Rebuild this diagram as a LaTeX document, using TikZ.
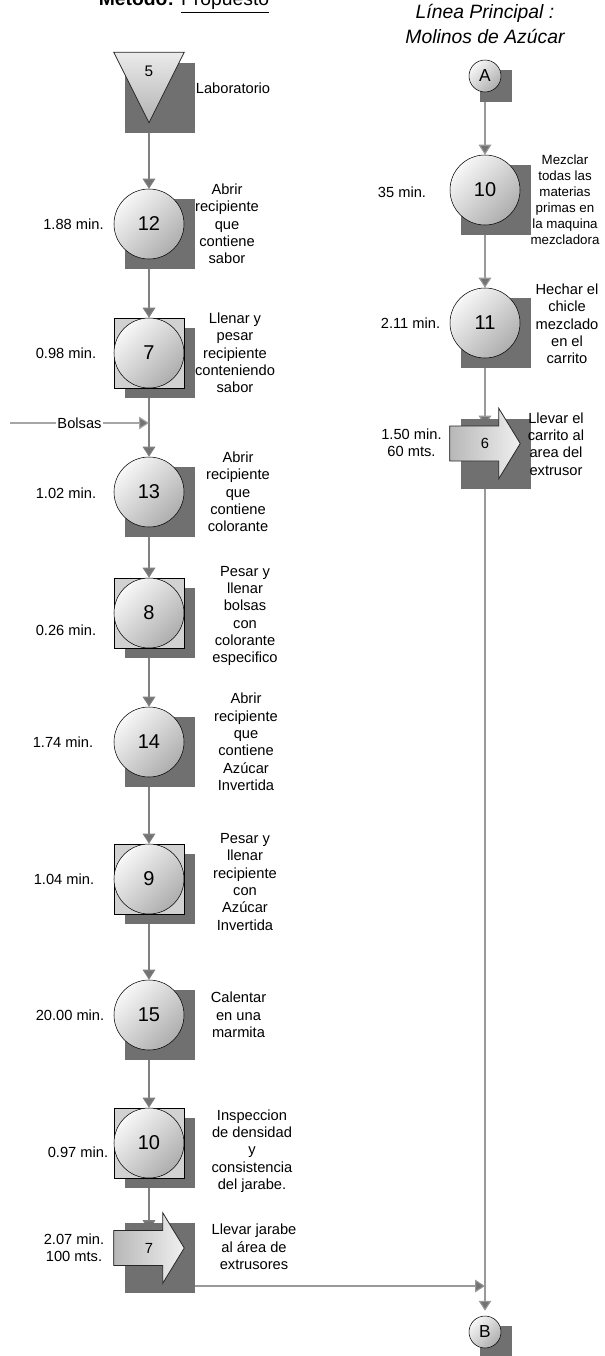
\documentclass[tikz,border=0pt]{standalone}
\usepackage{fontspec}
\setmainfont{Liberation Sans}
\usetikzlibrary{arrows.meta,calc,backgrounds}
\tikzset{
  opcirc/.style={circle, draw, minimum size=52.5pt, inner sep=0pt, top color=black!3, bottom color=black!32, shading angle=45, font=\fontsize{15}{17}\selectfont},
  combo/.style={rectangle, draw, minimum size=52.5pt, inner sep=0pt, fill=black!18},
  frame/.style={rectangle, minimum size=52.5pt, inner sep=0pt, font=\fontsize{11}{13}\selectfont},
  conector/.style={circle, draw, minimum size=24pt, inner sep=0pt, top color=black!3, bottom color=black!32, shading angle=45, font=\fontsize{13}{15}\selectfont},
  desc/.style={align=center, font=\fontsize{11}{13}\selectfont, inner sep=0pt},
  tiempo/.style={align=center, font=\fontsize{11}{13}\selectfont, inner sep=0pt},
  flujo/.style={draw=black!50, line width=0.8pt, -{Triangle[length=7.5pt,width=9.5pt,fill=black!55]}},
  sombra/.style={fill=black!56},
  figura/.style={draw=black!85, line width=0.6pt}
}
\begin{document}
\begin{tikzpicture}[x=0.75pt, y=-0.75pt]
  \useasboundingbox (0,0) rectangle (605,1356);

  % titulos
  \node[anchor=base, font=\fontsize{14.5}{17}\selectfont] (metodo) at (184,6) {\textbf{Método:} \underline{Propuesto}};
  \node[anchor=base, align=center, font=\fontsize{14.5}{18.75}\selectfont\itshape] (linea) at (485,43.3) {Línea Principal :\\Molinos de Azúcar};

  % columna izquierda
  \node[frame] (s5) at (149,87.5) {};
  \node[font=\fontsize{11.5}{13}\selectfont, inner sep=0pt] (s5n) at (149,71) {5};
  \node[desc] (d5) at (233,88) {Laboratorio};

  \node[opcirc] (c12) at (149,224) {12};
  \node[tiempo] (h12) at (73.5,224) {1.88 min.};
  \node[desc] (d12) at (227,224) {Abrir\\recipiente\\que\\contiene\\sabor};

  \node[combo] (q7) at (149,353) {};
  \node[opcirc] (c7) at (149,353) {7};
  \node[tiempo] (h7) at (66,353) {0.98 min.};
  \node[desc] (d7) at (235,353) {Llenar y\\pesar\\recipiente\\conteniendo\\sabor};

  \coordinate (bolsas0) at (10,423);
  \coordinate (bolsas1) at (149,423);

  \node[opcirc] (c13) at (149,492) {13};
  \node[tiempo] (h13) at (66,493) {1.02 min.};
  \node[desc] (d13) at (238,492) {Abrir\\recipiente\\que\\contiene\\colorante};

  \node[combo] (q8) at (149,613) {};
  \node[opcirc] (c8) at (149,613) {8};
  \node[tiempo] (h8) at (66,630) {0.26 min.};
  \node[desc] (d8) at (245,616) {Pesar y\\llenar\\bolsas\\con\\colorante\\especifico};

  \node[opcirc] (c14) at (149,742) {14};
  \node[tiempo] (h14) at (63,742) {1.74 min.};
  \node[desc] (d14) at (246,742) {Abrir\\recipiente\\que\\contiene\\Azúcar\\Invertida};

  \node[combo] (q9) at (149,879) {};
  \node[opcirc] (c9) at (149,879) {9};
  \node[tiempo] (h9) at (64,879) {1.04 min.};
  \node[desc] (d9) at (245,882) {Pesar y\\llenar\\recipiente\\con\\Azúcar\\Invertida};

  \node[opcirc] (c15) at (149,1015) {15};
  \node[tiempo] (h15) at (70,1015) {20.00 min.};
  \node[desc] (d15) at (238.5,1015) {Calentar\\en una\\marmita};

  \node[combo] (q10) at (149,1143) {};
  \node[opcirc] (c10) at (149,1143) {10};
  \node[tiempo] (h10) at (78,1152) {0.97 min.};
  \node[desc] (d10) at (252,1151) {Inspeccion\\de densidad\\y\\consistencia\\del jarabe.};

  \node[frame] (t7) at (149,1248) {7};
  \node[tiempo] (h7t) at (74,1248) {2.07 min.\\100 mts.};
  \node[desc] (d7t) at (254,1247) {Llevar jarabe\\al área de\\extrusores};
  \coordinate (t7out) at (149,1286);

  % columna derecha
  \node[conector] (a) at (485,76) {A};
  \node[opcirc] (c10r) at (485,190) {10};
  \node[tiempo] (h10r) at (402,192) {35 min.};
  \node[desc, font=\fontsize{10}{12}\selectfont] (d10r) at (565,200) {Mezclar\\todas las\\materias\\primas en\\la maquina\\mezcladora};
  \node[opcirc] (c11r) at (485,323) {11};
  \node[tiempo] (h11r) at (410.5,323) {2.11 min.};
  \node[desc] (d11r) at (567,324) {Hechar el\\chicle\\mezclado\\en el\\carrito};
  \node[frame] (t6) at (485,443.5) {6};
  \node[tiempo] (h6) at (411.5,443) {1.50 min.\\60 mts.};
  \node[desc] (d6) at (556,444) {Llevar el\\carrito al\\area del\\extrusor};
  \node[conector] (b) at (485,1332) {B};
  \coordinate (union) at (b |- t7out);

  \begin{scope}[on background layer]
    % flechas
    \draw[flujo] (s5.south) -- (c12.north);
    \draw[flujo] (c12.south) -- (q7.north);
    \draw[flujo] (q7.south) -- (c13.north);
    \draw[flujo, draw=black!35] (bolsas0) -- node[fill=white, inner sep=1pt, font=\fontsize{11}{13}\selectfont] (bolsas) {Bolsas} (bolsas1);
    \draw[flujo] (c13.south) -- (q8.north);
    \draw[flujo] (q8.south) -- (c14.north);
    \draw[flujo] (c14.south) -- (q9.north);
    \draw[flujo] (q9.south) -- (c15.north);
    \draw[flujo] (c15.south) -- (q10.north);
    \draw[flujo] (q10.south) -- ($(t7.north)+(0,17.5)$);
    \draw[flujo, draw=black!40] (t7out) -- (union);
    \draw[flujo, draw=black!40] (a.south) -- (c10r.north);
    \draw[flujo, draw=black!40] (c10r.south) -- (c11r.north);
    \draw[flujo, draw=black!40] (c11r.south) -- ($(t6.north)+(0,17.5)$);
    \draw[flujo, draw=black!40, shorten >=3.75pt] (t6.south) -- (b.north);

    % sombras
    \foreach \n in {s5,c12,q7,c13,q8,c14,q9,c15,q10,t7,c10r,c11r,t6}
      \fill[sombra] ([shift={(-24,-25)}]\n.center) rectangle ([shift={(46,45)}]\n.center);
    \foreach \n in {a,b}
      \fill[sombra] ([shift={(-5,-6)}]\n.center) rectangle ([shift={(27,26)}]\n.center);

    % almacen y transportes
    \draw[figura, top color=black!8, bottom color=black!30] (s5.north west) -- (s5.north east) -- (s5.south) -- cycle;
    \foreach \t in {t7,t6}
      \draw[figura, left color=black!28, right color=black!6] ($(\t.west)+(0,-17.5)$) -- ($(\t.west)+(49,-17.5)$) -- ($(\t.north west)+(49,0)$) -- (\t.east) -- ($(\t.south west)+(49,0)$) -- ($(\t.west)+(49,17.5)$) -- ($(\t.west)+(0,17.5)$) -- cycle;
  \end{scope}
\end{tikzpicture}
\end{document}
